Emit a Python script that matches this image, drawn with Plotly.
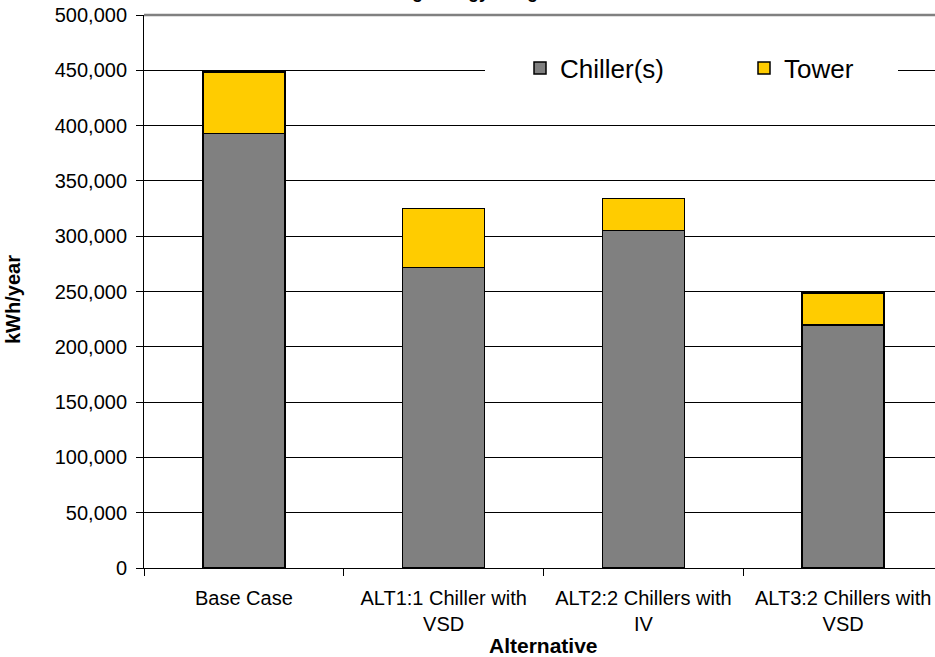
import plotly.graph_objects as go

# Annual energy use by plant alternative (kWh/year)
categories = [
    "Base Case",
    "ALT1:1 Chiller with<br>VSD",
    "ALT2:2 Chillers with<br>IV",
    "ALT3:2 Chillers with<br>VSD",
]
chiller_kwh = [393000, 271500, 305000, 219500]
tower_kwh = [55500, 53500, 29000, 29300]

FONT = "Liberation Sans, Arial, sans-serif"
PLOT_L, PLOT_W, PLOT_T, PLOT_H = 144, 791, 15, 553


def px_x(px):
    return (px - PLOT_L) / PLOT_W


def px_y(px):
    return 1 - (px - PLOT_T) / PLOT_H


fig = go.Figure()
fig.add_trace(go.Bar(
    name="Chiller(s)", x=categories, y=chiller_kwh,
    marker=dict(color="#808080", line=dict(color="black", width=1.5)),
    width=0.41, legend="legend",
))
fig.add_trace(go.Bar(
    name="Tower", x=categories, y=tower_kwh,
    marker=dict(color="#FFCC00", line=dict(color="black", width=1.5)),
    width=0.41, legend="legend2",
))

legend_style = dict(
    orientation="h", xanchor="left", yanchor="middle", y=px_y(68),
    bgcolor="rgba(0,0,0,0)", borderwidth=0, font=dict(size=26),
)

fig.update_layout(
    barmode="stack",
    width=935, height=657, autosize=False,
    margin=dict(l=PLOT_L, r=935 - PLOT_L - PLOT_W, t=PLOT_T, b=657 - PLOT_T - PLOT_H),
    plot_bgcolor="white", paper_bgcolor="white",
    font=dict(family=FONT, size=20, color="black"),
    showlegend=True,
    legend=dict(x=px_x(520), **legend_style),
    legend2=dict(x=px_x(744), **legend_style),
    xaxis=dict(
        type="category", range=[-0.5, 3.46],
        showline=True, linecolor="black", linewidth=1,
        ticks="outside", ticklen=7, tickcolor="black", tickson="boundaries",
        showgrid=False, tickfont=dict(size=20), tickangle=0,
        ticklabelstandoff=12, automargin=False,
    ),
    yaxis=dict(
        range=[0, 500000], dtick=50000, tickformat=",",
        showline=True, linecolor="black", linewidth=1,
        ticks="outside", ticklen=7, tickcolor="black",
        showgrid=True, gridcolor="black", gridwidth=1,
        zeroline=False, tickfont=dict(size=20),
        ticklabelstandoff=5, automargin=False,
    ),
    shapes=[
        # white panel behind the legend, hiding the gridline
        dict(type="rect", xref="paper", yref="paper",
             x0=px_x(485), x1=px_x(898), y0=px_y(86), y1=px_y(52),
             fillcolor="white", line=dict(width=0), layer="above"),
        # grey plot-area border along the top
        dict(type="line", xref="paper", yref="paper",
             x0=0, x1=1, y0=1, y1=1,
             line=dict(color="#808080", width=2.5), layer="above"),
    ],
    annotations=[
        dict(text="<b>Cooling Energy Usage</b>", xref="paper", yref="paper",
             x=px_x(451.5), y=px_y(4),
             xanchor="center", yanchor="bottom", showarrow=False,
             font=dict(size=18)),
        dict(text="<b>kWh/year</b>", xref="paper", yref="paper",
             x=px_x(13), y=px_y(300),
             xanchor="center", yanchor="middle", textangle=-90,
             showarrow=False, font=dict(size=20)),
        dict(text="<b>Alternative</b>", xref="paper", yref="paper",
             x=px_x(543), y=px_y(646),
             xanchor="center", yanchor="middle",
             showarrow=False, font=dict(size=21)),
    ],
)

fig.write_html("out.html")
